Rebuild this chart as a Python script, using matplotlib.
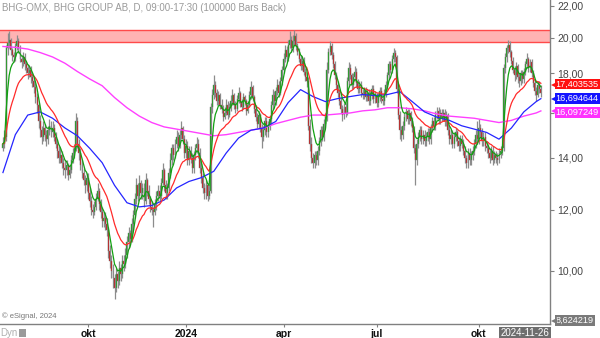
import numpy as np
import pandas as pd
import matplotlib
matplotlib.use("Agg")
import matplotlib.pyplot as plt
from matplotlib.ticker import NullLocator, NullFormatter, FixedLocator, FixedFormatter
from matplotlib.patches import Rectangle

plt.rcParams['font.family'] = ['Liberation Sans', 'DejaVu Sans']

# ---------------- data ----------------
title = "BHG-OMX, BHG GROUP AB, D, 09:00-17:30 (100000 Bars Back)"
last_date = "2024-11-26"
first_open = 14.4

closes = [
    14.6, 14.9, 19.4, 19.7, 19.9, 19.3, 19.0, 18.9, 19.5, 19.8,
    19.4, 18.8, 18.6, 18.9, 18.5, 18.3, 18.0, 18.2, 17.8, 17.6,
    17.3, 16.8, 16.4, 15.6, 15.2, 14.9, 15.3, 15.0, 14.8, 15.2,
    15.4, 15.1, 15.3, 14.9, 14.6, 14.3, 14.0, 14.1, 13.8, 13.6,
    13.5, 13.7, 13.3, 13.5, 13.9, 14.2, 14.4, 15.6, 14.6, 14.2,
    13.7, 13.4, 13.1, 12.9, 13.2, 12.6, 12.3, 12.0, 11.9, 12.1,
    12.4, 12.7, 12.2, 11.9, 11.6, 11.7, 11.5, 11.3, 10.6, 10.3,
    10.0, 9.8, 9.5, 9.9, 9.7, 10.1, 9.9, 10.3, 10.2, 10.5,
    10.9, 11.2, 11.0, 11.5, 11.8, 12.4, 12.9, 12.5, 13.0, 12.6,
    12.8, 12.3, 13.1, 12.7, 12.4, 12.1, 12.0, 11.9, 12.2, 12.5,
    12.7, 12.5, 13.0, 13.5, 12.9, 12.6, 12.8, 13.4, 13.9, 14.4,
    14.1, 14.6, 14.9, 14.5, 15.0, 15.3, 14.8, 14.2, 14.5, 13.9,
    14.3, 14.0, 13.6, 14.1, 14.4, 14.6, 14.2, 13.6, 13.2, 12.8,
    12.6, 12.9, 12.5, 12.7, 16.3, 16.9, 17.4, 17.0, 16.6, 16.9,
    16.4, 16.2, 15.8, 16.0, 16.4, 15.9, 16.3, 16.6, 16.9, 16.4,
    16.2, 16.7, 17.0, 16.5, 16.3, 16.8, 16.6, 16.1, 16.4, 16.9,
    17.3, 16.8, 16.2, 15.8, 15.5, 15.9, 15.3, 14.9, 15.2, 15.6,
    15.1, 15.4, 15.7, 16.4, 16.9, 16.6, 17.1, 17.4, 17.0, 17.6,
    18.2, 18.8, 19.3, 18.9, 19.6, 19.9, 19.4, 19.8, 20.1, 19.5,
    19.2, 18.8, 18.4, 18.7, 18.1, 17.8, 17.6, 15.4, 14.6, 14.0,
    13.8, 14.1, 13.9, 14.3, 14.7, 15.2, 14.9, 15.5, 15.8, 18.2,
    19.2, 19.5, 19.0, 18.5, 17.9, 17.4, 17.0, 16.6, 16.2, 15.9,
    16.3, 16.0, 17.6, 18.3, 17.9, 17.4, 17.8, 18.1, 17.5, 17.2,
    17.4, 17.0, 16.9, 17.1, 16.8, 17.0, 16.6, 16.9, 17.2, 16.7,
    16.9, 16.5, 16.8, 17.1, 16.7, 16.6, 17.0, 17.4, 17.9, 18.5,
    18.2, 18.8, 19.1, 18.9, 17.2, 15.9, 15.2, 15.0, 15.4, 15.8,
    16.1, 15.7, 16.0, 15.6, 15.3, 14.4, 13.9, 14.6, 14.9, 15.2,
    14.8, 15.0, 14.7, 14.9, 15.1, 14.8, 15.3, 15.6, 15.4, 15.9,
    16.1, 15.7, 16.0, 15.8, 16.0, 15.6, 15.9, 15.2, 14.8, 15.0,
    14.6, 14.9, 15.1, 14.7, 14.5, 14.8, 14.6, 14.3, 14.0, 13.8,
    14.2, 13.9, 14.1, 14.3, 14.6, 15.0, 14.8, 15.3, 15.1, 14.7,
    14.9, 14.5, 14.4, 14.2, 14.0, 14.3, 13.9, 14.1, 14.0, 13.9,
    14.2, 14.3, 14.4, 18.3, 18.9, 19.4, 19.6, 19.2, 18.7, 18.2,
    17.9, 18.4, 17.8, 17.6, 18.0, 17.7, 18.1, 18.5, 18.8, 18.3,
    18.6, 18.0, 17.5, 17.1, 16.9, 17.4, 17.2, 17.0,
]

highs = [
    14.9, 15.2, 19.6, 20.3, 20.4, 20.0, 19.4, 19.2, 19.7, 20.2,
    20.0, 19.6, 19.0, 19.2, 19.1, 18.7, 18.5, 18.4, 18.4, 18.0,
    17.8, 17.5, 17.0, 16.5, 15.9, 15.4, 15.6, 15.5, 15.2, 15.4,
    15.7, 15.6, 15.6, 15.5, 15.1, 14.8, 14.5, 14.4, 14.3, 14.0,
    13.9, 13.9, 13.8, 13.7, 14.1, 14.4, 14.6, 16.0, 15.8, 14.8,
    14.4, 13.9, 13.6, 13.3, 13.4, 13.4, 12.8, 12.5, 12.2, 12.3,
    12.6, 13.0, 12.8, 12.4, 12.1, 11.9, 11.9, 11.7, 11.4, 10.8,
    10.5, 10.2, 9.9, 10.1, 10.0, 10.3, 10.2, 10.5, 10.5, 10.7,
    11.1, 11.4, 11.3, 11.7, 12.0, 12.6, 13.2, 13.0, 13.3, 13.1,
    13.0, 13.0, 13.4, 13.2, 12.9, 12.5, 12.3, 12.1, 12.4, 12.7,
    12.9, 12.9, 13.2, 13.8, 13.6, 13.1, 13.0, 13.6, 14.2, 14.6,
    14.6, 14.8, 15.2, 15.1, 15.2, 15.6, 15.4, 15.0, 14.8, 14.7,
    14.5, 14.5, 14.2, 14.3, 14.6, 14.9, 14.8, 14.4, 13.8, 13.4,
    13.0, 13.1, 13.0, 12.9, 16.5, 17.2, 17.9, 17.6, 17.2, 17.1,
    17.0, 16.7, 16.4, 16.3, 16.7, 16.6, 16.5, 16.9, 17.2, 17.0,
    16.6, 16.9, 17.3, 17.1, 16.7, 17.0, 16.9, 16.7, 16.6, 17.1,
    17.6, 17.4, 16.9, 16.4, 16.0, 16.1, 16.0, 15.5, 15.4, 15.8,
    15.8, 15.6, 15.9, 16.6, 17.2, 17.1, 17.3, 17.7, 17.6, 17.8,
    18.4, 19.1, 19.6, 19.5, 19.9, 20.4, 20.1, 20.2, 20.5, 20.3,
    19.7, 19.4, 19.0, 18.9, 18.9, 18.3, 18.1, 17.8, 15.7, 14.9,
    14.2, 14.3, 14.3, 14.5, 14.9, 15.4, 15.4, 15.7, 16.0, 18.6,
    19.4, 19.8, 19.7, 19.2, 18.7, 18.1, 17.6, 17.2, 16.8, 16.4,
    16.5, 16.5, 17.8, 18.6, 18.5, 18.0, 18.0, 18.4, 18.3, 17.7,
    17.6, 17.6, 17.2, 17.3, 17.3, 17.2, 17.2, 17.1, 17.4, 17.4,
    17.1, 17.0, 17.0, 17.3, 17.3, 16.9, 17.2, 17.6, 18.1, 18.7,
    18.7, 19.0, 19.4, 19.3, 19.0, 17.4, 16.1, 15.4, 15.6, 16.0,
    16.3, 16.2, 16.2, 16.1, 15.8, 15.4, 14.6, 14.8, 15.1, 15.4,
    15.4, 15.2, 15.2, 15.1, 15.3, 15.3, 15.5, 15.8, 15.8, 16.1,
    16.3, 16.3, 16.2, 16.2, 16.2, 16.2, 16.1, 16.0, 15.4, 15.2,
    15.2, 15.1, 15.3, 15.2, 14.9, 15.0, 15.0, 14.8, 14.5, 14.1,
    14.4, 14.4, 14.3, 14.5, 14.8, 15.2, 15.6, 15.7, 15.5, 15.3,
    15.1, 15.1, 14.7, 14.6, 14.4, 14.5, 14.5, 14.3, 14.3, 14.2,
    14.4, 14.5, 14.9, 18.5, 19.1, 19.6, 19.9, 19.8, 19.3, 18.9,
    18.4, 18.6, 18.5, 18.0, 18.2, 18.2, 18.3, 18.7, 19.1, 18.9,
    18.8, 18.8, 18.2, 17.7, 17.3, 17.6, 17.6, 17.4,
]

lows = [
    14.3, 14.4, 14.7, 19.0, 19.4, 19.0, 18.7, 18.6, 18.7, 19.3,
    19.1, 18.6, 18.3, 18.4, 18.2, 18.0, 17.7, 17.8, 17.5, 17.3,
    17.0, 16.5, 16.0, 15.3, 14.9, 14.6, 14.7, 14.7, 14.5, 14.6,
    15.0, 14.9, 14.9, 14.7, 14.4, 14.0, 13.8, 13.8, 13.6, 13.3,
    13.2, 13.3, 13.1, 13.2, 13.4, 13.8, 14.0, 14.3, 14.4, 13.9,
    13.5, 13.2, 12.9, 12.6, 12.7, 12.4, 12.1, 11.8, 11.7, 11.8,
    12.0, 12.3, 12.0, 11.7, 11.4, 11.4, 11.3, 11.1, 10.4, 10.1,
    9.8, 9.5, 9.2, 9.4, 9.5, 9.6, 9.7, 9.8, 10.0, 10.1,
    10.4, 10.7, 10.8, 10.9, 11.3, 11.7, 12.2, 12.3, 12.4, 12.4,
    12.4, 12.1, 12.2, 12.5, 12.2, 11.9, 11.8, 11.4, 11.8, 12.0,
    12.3, 12.3, 12.4, 12.9, 12.7, 12.4, 12.4, 12.7, 13.2, 13.7,
    13.9, 14.0, 14.4, 14.3, 14.4, 14.8, 14.6, 14.0, 14.0, 13.7,
    13.7, 13.8, 13.4, 13.4, 13.9, 14.2, 14.0, 13.4, 13.0, 12.6,
    12.4, 12.4, 12.3, 12.4, 12.6, 16.0, 16.7, 16.8, 16.4, 16.4,
    16.2, 16.0, 15.6, 15.7, 15.9, 15.7, 15.8, 16.1, 16.4, 16.2,
    16.0, 16.1, 16.5, 16.3, 16.1, 16.2, 16.4, 15.9, 16.0, 16.3,
    16.7, 16.6, 16.0, 15.6, 15.3, 15.3, 15.1, 14.4, 14.7, 15.0,
    14.9, 14.9, 15.2, 15.5, 16.2, 16.4, 16.4, 16.9, 16.8, 16.9,
    17.4, 18.0, 18.6, 18.7, 18.7, 19.4, 19.2, 19.2, 19.6, 19.3,
    19.0, 18.6, 18.2, 18.2, 17.9, 17.6, 17.3, 15.2, 14.3, 13.8,
    13.6, 13.6, 13.7, 13.7, 14.1, 14.5, 14.7, 14.7, 15.3, 15.6,
    18.0, 19.0, 18.8, 18.3, 17.7, 17.2, 16.8, 16.4, 16.0, 15.6,
    15.7, 15.8, 15.9, 17.4, 17.7, 17.2, 17.2, 17.6, 17.3, 17.0,
    17.0, 16.8, 16.7, 16.7, 16.6, 16.6, 16.4, 16.4, 16.7, 16.5,
    16.5, 16.3, 16.3, 16.6, 16.5, 16.4, 16.4, 16.8, 17.2, 17.7,
    18.0, 18.0, 18.6, 18.6, 17.0, 15.7, 14.8, 14.7, 14.8, 15.2,
    15.6, 15.5, 15.5, 15.4, 15.1, 14.2, 12.9, 13.7, 14.4, 14.7,
    14.6, 14.6, 14.5, 14.5, 14.7, 14.6, 14.6, 15.1, 15.2, 15.2,
    15.7, 15.5, 15.5, 15.6, 15.6, 15.4, 15.4, 15.0, 14.6, 14.6,
    14.4, 14.4, 14.7, 14.5, 14.3, 14.3, 14.4, 14.1, 13.8, 13.6,
    13.6, 13.7, 13.7, 13.9, 14.1, 14.4, 14.6, 14.6, 14.9, 14.5,
    14.5, 14.3, 14.2, 14.0, 13.8, 13.9, 13.7, 13.8, 13.8, 13.7,
    13.8, 14.0, 14.1, 14.3, 18.0, 18.6, 19.1, 18.9, 18.5, 18.0,
    17.6, 17.7, 17.5, 17.3, 17.4, 17.5, 17.5, 17.9, 18.3, 18.1,
    18.1, 17.8, 17.3, 16.9, 16.6, 16.8, 17.0, 16.8,
]

# slow moving averages, read every 8 bars (last entry = last bar)
ma_step = 8
blue_ma = [
    13.4, 15.0, 15.9, 16.05, 15.75, 15.3, 14.95, 14.4, 13.8, 12.9,
    12.25, 12.1, 12.15, 12.35, 12.8, 13.05, 13.2, 13.45, 14.2, 14.85,
    15.2, 15.3, 15.6, 16.5, 17.15, 16.8, 16.55, 16.7, 16.8, 16.9,
    16.85, 16.9, 17.05, 16.55, 16.05, 15.8, 15.65, 15.4, 15.25, 15.1,
    14.8, 15.3, 16.05, 16.55, 16.694644,
]
magenta_ma = [
    19.5, 19.45, 19.35, 19.15, 18.9, 18.55, 18.1, 17.7, 17.35, 16.75,
    16.25, 15.85, 15.55, 15.35, 15.25, 15.15, 15.05, 14.95, 15.0, 15.1,
    15.2, 15.3, 15.5, 15.65, 15.8, 15.9, 15.9, 15.95, 16.0, 16.1,
    16.15, 16.25, 16.25, 16.2, 16.1, 15.95, 15.85, 15.8, 15.75, 15.65,
    15.55, 15.65, 15.85, 16.0, 16.097249,
]
fast_span = 6
mid_span = 20

last_red = 17.403535
last_blue = 16.694644
last_magenta = 16.097249
axis_floor = 8.624219

y_ticks = [10, 12, 14, 16, 18, 20, 22]
y_tick_labels = ["10,00", "12,00", "14,00", "", "18,00", "20,00", "22,00"]  # 16,00 hidden by value boxes
x_tick_dates = ["2023-10-01", "2024-01-01", "2024-04-01", "2024-07-01", "2024-10-01"]
x_tick_labels = ["okt", "2024", "apr", "jul", "okt"]
resistance_low, resistance_high = 19.76, 20.48
holidays = ["2023-12-25", "2023-12-26", "2024-01-01", "2024-03-29", "2024-04-01",
            "2024-05-01", "2024-05-09", "2024-06-06", "2024-06-21"]

# ---------------- build ----------------
c = np.array(closes)
o = np.concatenate([[first_open], c[:-1]])
h = np.maximum(np.array(highs), np.maximum(o, c))
l = np.minimum(np.array(lows), np.minimum(o, c))
n = len(c)
idx = np.arange(n)

days = pd.bdate_range("2023-01-02", last_date)
days = days[~days.isin(pd.to_datetime(holidays))][-n:]
tick_pos = [int(np.searchsorted(days.values, np.datetime64(d))) for d in x_tick_dates]

ma_idx = list(range(0, n, ma_step))
if ma_idx[-1] != n - 1:
    ma_idx.append(n - 1)

green = pd.Series(c).ewm(span=fast_span, adjust=False).mean()
red = pd.Series(c).ewm(span=mid_span, adjust=False).mean()

fig = plt.figure(figsize=(6.0, 3.38), dpi=100)
ax = fig.add_axes([0.0, 14 / 338, 550 / 600, 324 / 338])
ax.set_yscale('log')
ax.set_xlim(-1.9, 352.9)
ax.set_ylim(8.54, 22.39)

ax.axhspan(resistance_low, resistance_high, facecolor='#ffb3b3', edgecolor='none', zorder=1)
ax.axhline(resistance_low, color='#ff4a4a', lw=1.0, zorder=1.1)
ax.axhline(resistance_high, color='#ff4a4a', lw=1.0, zorder=1.1)

up = c >= o
ax.vlines(idx, l, h, color='#8c8c8c', lw=0.9, zorder=2)
body_lo = np.minimum(o, c)
body_hi = np.maximum(o, c)
ax.bar(idx, body_hi - body_lo, bottom=body_lo, width=0.62,
       color=np.where(up, '#00b000', '#e00000'), edgecolor='#7a7a7a',
       linewidth=0.3, zorder=3)

ax.plot(ma_idx, magenta_ma, color='#ff40ff', lw=1.0, zorder=4)
ax.plot(ma_idx, blue_ma, color='#2525ff', lw=0.9, zorder=4)
ax.plot(idx, red, color='#ff2b2b', lw=0.9, zorder=4)
ax.plot(idx, green, color='#12a012', lw=0.9, zorder=4)

for s in ['left', 'top']:
    ax.spines[s].set_visible(False)
for s in ['right', 'bottom']:
    ax.spines[s].set_color('#808080')
    ax.spines[s].set_linewidth(1.0)

ax.yaxis.tick_right()
ax.yaxis.set_major_locator(FixedLocator(y_ticks))
ax.yaxis.set_major_formatter(FixedFormatter(y_tick_labels))
ax.yaxis.set_minor_locator(NullLocator())
ax.yaxis.set_minor_formatter(NullFormatter())
ax.tick_params(axis='y', length=3, color='#808080', labelcolor='#444444', labelsize=7.5, pad=2)

ax.set_xticks(tick_pos)
ax.set_xticklabels(x_tick_labels, fontweight='bold', fontsize=7.5, color='#111111')
ax.tick_params(axis='x', length=2, color='#808080', pad=1.5)

ytr = ax.get_yaxis_transform()
for val, col, dy in [(axis_floor, '#7a7a7a', 0), (last_magenta, '#ff30ff', -1.0),
                     (last_blue, '#1414ff', 0), (last_red, '#ff1010', 0.5)]:
    ax.annotate(f"{val:.6f}".replace('.', ','), xy=(1.0105, val), xycoords=ytr,
                xytext=(0, dy), textcoords='offset points', ha='left', va='center',
                fontsize=6.6, color='white', annotation_clip=False, zorder=10,
                bbox=dict(boxstyle='square,pad=0.1', fc=col, ec='none'))
    ax.plot([1.0072], [val], marker='<', markersize=4.2, color=col, transform=ytr,
            clip_on=False, zorder=10, markeredgewidth=0)

fig.text(2 / 600, 1 - 8 / 338, title, ha='left', va='center', fontsize=7, color='#9a9a9a')
fig.text(2 / 600, 1 - 316 / 338, "\u00a9 eSignal, 2024", ha='left', va='center', fontsize=5.5, color='#777777')
fig.text(0 / 600, 1 - 333 / 338, "Dyn", ha='left', va='center', fontsize=7, color='#b0b0b0')
fig.patches.append(Rectangle((19 / 600, 1 - 337 / 338), 7 / 600, 8 / 338, transform=fig.transFigure,
                             facecolor='#9a9a9a', edgecolor='none'))
fig.text(525 / 600, 1 - 333 / 338, last_date, ha='center', va='center', fontsize=7, color='white',
         bbox=dict(boxstyle='square,pad=0.15', fc='#6e6e6e', ec='none'))

fig.savefig("out.png", dpi=100, facecolor='white')
